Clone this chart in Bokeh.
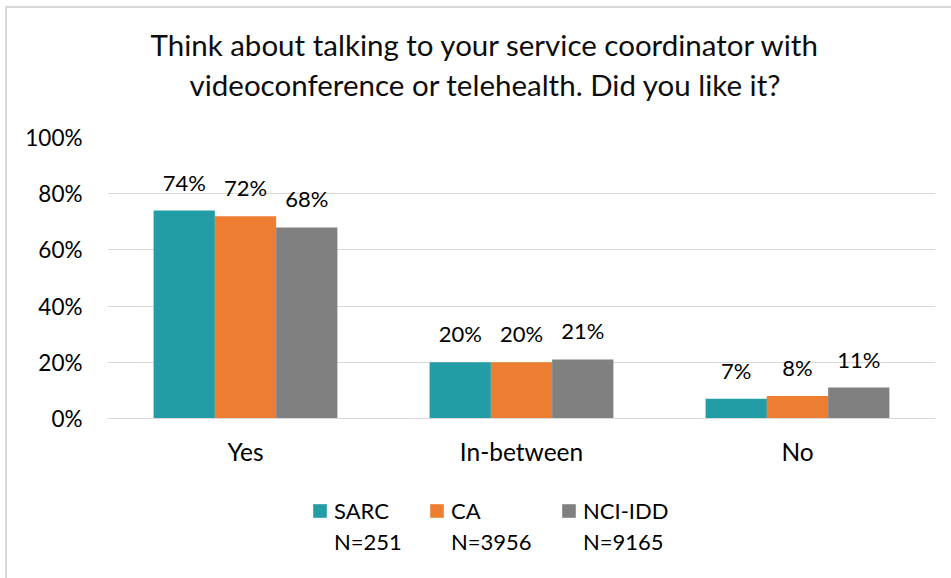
from bokeh.plotting import figure
from bokeh.layouts import column
from bokeh.models import ColumnDataSource, FactorRange, Range1d, NumeralTickFormatter, Legend, LegendItem, FixedTicker, Title
from bokeh.transform import dodge
from bokeh.core.properties import value
from bokeh.embed import file_html
from bokeh.resources import INLINE

categories = ["Yes", "In-between", "No"]
series_names = ["SARC", "CA", "NCI-IDD"]
series_n = ["N=251", "N=3956", "N=9165"]
sarc = [0.74, 0.20, 0.07]
ca = [0.72, 0.20, 0.08]
nci = [0.68, 0.21, 0.11]
colors = ["#229DA6", "#ED7D31", "#808080"]
title_lines = ["Think about talking to your service coordinator with",
               "videoconference or telehealth. Did you like it?"]

FONT = "Lato"

src = ColumnDataSource(dict(
    cat=categories, sarc=sarc, ca=ca, nci=nci,
    sarc_l=[f"{round(v*100)}%" for v in sarc],
    ca_l=[f"{round(v*100)}%" for v in ca],
    nci_l=[f"{round(v*100)}%" for v in nci],
))

p = figure(x_range=FactorRange(*categories), y_range=Range1d(0, 1.0),
           frame_width=828, frame_height=281, output_backend="svg", toolbar_location=None,
           min_border_left=100, min_border_right=16, min_border_top=0, min_border_bottom=52)
p.outline_line_color = None

# spacer closest to frame, then line 2, then line 1 (outermost)
p.add_layout(Title(text=" ", text_font_size="1px", standoff=47), "above")
for t, st, off in zip(reversed(title_lines), [-28, 33], [82, 43]):
    p.add_layout(Title(text=t, align="left", offset=off, text_font=FONT, text_font_size="29.5px",
                       text_font_style="normal", text_color="#0d0d0d", standoff=st), "above")

w = 0.222
offs = [-w, 0, w]
keys = ["sarc", "ca", "nci"]
for k, o, c in zip(keys, offs, colors):
    p.vbar(x=dodge("cat", o, range=p.x_range), top=k, width=w, source=src, color=c, line_color=None)
    p.text(x=dodge("cat", o, range=p.x_range), y=k, text=k + "_l", source=src,
           text_align="center", text_baseline="bottom", y_offset=-15,
           text_font=value(FONT), text_font_size="22px", text_color="#000000")

p.yaxis.ticker = FixedTicker(ticks=[0, 0.2, 0.4, 0.6, 0.8, 1.0])
p.yaxis.formatter = NumeralTickFormatter(format="0%")
p.yaxis.axis_line_color = None
p.yaxis.major_tick_line_color = None
p.yaxis.minor_tick_line_color = None
p.yaxis.major_label_text_font = FONT
p.yaxis.major_label_text_font_size = "22.5px"
p.yaxis.major_label_text_color = "#000000"
p.yaxis.major_label_standoff = 19

p.xaxis.axis_line_color = "#d9d9d9"
p.xaxis.axis_line_width = 1
p.xaxis.major_tick_line_color = None
p.xaxis.minor_tick_line_color = None
p.xaxis.major_label_text_font = FONT
p.xaxis.major_label_text_font_size = "24.5px"
p.xaxis.major_label_text_color = "#000000"
p.xaxis.major_label_standoff = 12

p.xgrid.grid_line_color = None
p.ygrid.grid_line_color = "#d9d9d9"
p.ygrid.grid_line_width = 1

# legend figure: one two-row legend per series (name + N)
lp = figure(width=944, height=109, x_range=Range1d(0, 1), y_range=Range1d(0, 1),
            output_backend="svg", toolbar_location=None, min_border=0)
lp.axis.visible = False
lp.grid.visible = False
lp.outline_line_color = None
for name, n, c, lx in zip(series_names, series_n, colors, [204, 321, 453]):
    r = lp.vbar(x=[-5], top=[-5], width=0.1, color=c, line_color=None)
    r_blank = lp.vbar(x=[-5], top=[-5], width=0.1, fill_alpha=0, line_alpha=0)
    lg = Legend(items=[LegendItem(label=name, renderers=[r]), LegendItem(label=n, renderers=[r_blank])],
                orientation="vertical", location=(lx, 24),
                label_text_font=FONT, label_text_font_size="22px", label_text_color="#000000",
                label_text_line_height=1.2, label_height=20,
                glyph_width=17, glyph_height=17, spacing=4, border_line_color=None,
                background_fill_alpha=0, label_standoff=6, margin=0, padding=0)
    lp.add_layout(lg, "center")

layout = column(p, lp, spacing=0, margin=(6, 0, 0, 5))
layout.styles = {"border-top": "2px solid #d9d9d9", "border-left": "2px solid #d9d9d9"}

open("out.html", "w").write(file_html(layout, INLINE))
